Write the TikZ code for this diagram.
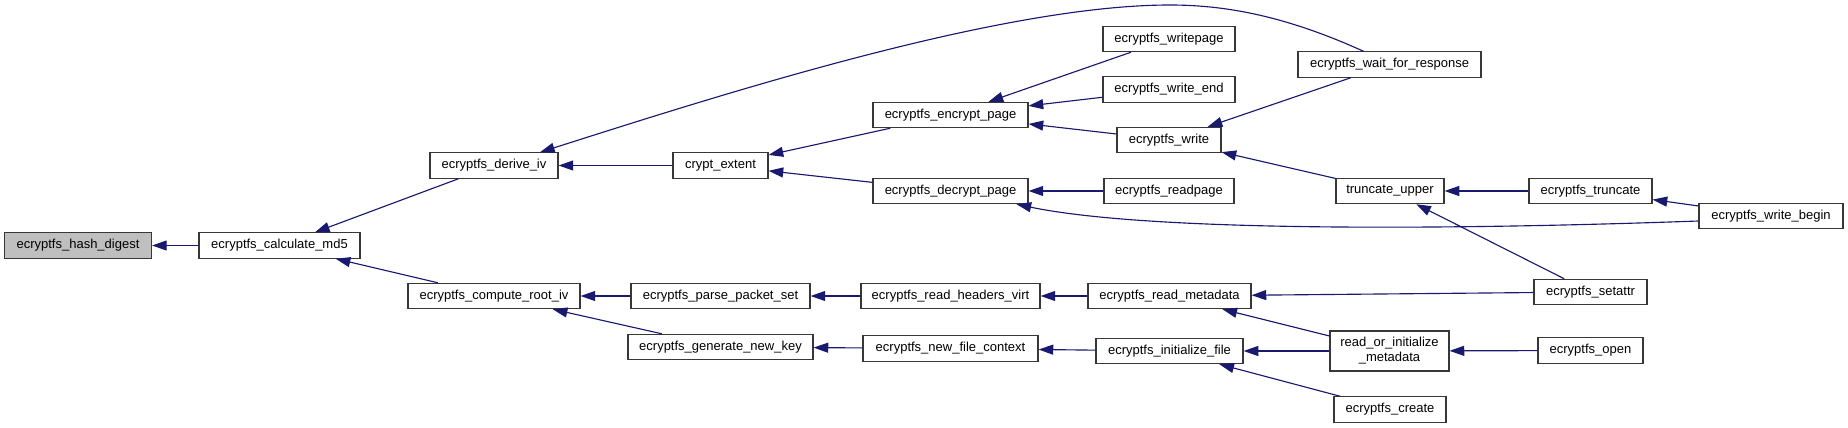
\documentclass[tikz,border=0pt]{standalone}
\usepackage{fontspec}
\setmainfont{Liberation Sans}
\usepackage{tikz}
\usetikzlibrary{arrows.meta, calc}
\definecolor{callblue}{RGB}{25,25,112}
\definecolor{boxline}{RGB}{55,55,55}
\definecolor{rootgray}{RGB}{191,191,191}

\tikzset{
  fn/.style={rectangle, draw=boxline, line width=0.85pt, fill=white, minimum height=19pt,
    inner xsep=2pt, inner ysep=1pt, align=center, font=\fontsize{9.75pt}{11.25pt}\selectfont},
  root/.style={fn, fill=rootgray},
  call/.style={draw=callblue, line width=0.85pt, >={Triangle[length=11pt, width=7.5pt]}}
}

\begin{document}
\begin{tikzpicture}[x=0.75pt, y=-0.75pt]
\useasboundingbox (0,0) rectangle (1848,428);

% Root and first caller
\node[root, minimum width=110.25pt] (hash) at (78,245.5) {ecryptfs\_hash\_digest};
\node[fn, minimum width=120.75pt] (md5) at (279.5,245.5) {ecryptfs\_calculate\_md5};

% Column 3
\node[fn, minimum width=96pt] (div) at (494,165.5) {ecryptfs\_derive\_iv};
\node[fn, minimum width=129pt] (criv) at (494,296) {ecryptfs\_compute\_root\_iv};

% Column 4
\node[fn, minimum width=71.25pt] (cext) at (720.5,165.5) {crypt\_extent};
\node[fn, minimum width=134.25pt] (pps) at (720.5,296) {ecryptfs\_parse\_packet\_set};
\node[fn, minimum width=138.75pt] (gnk) at (720.5,347) {ecryptfs\_generate\_new\_key};

% Column 5
\node[fn, minimum width=116.25pt] (enc) at (950.5,115) {ecryptfs\_encrypt\_page};
\node[fn, minimum width=116.25pt] (dec) at (950.5,191) {ecryptfs\_decrypt\_page};
\node[fn, minimum width=134.25pt] (rhv) at (950.5,296) {ecryptfs\_read\_headers\_virt};
\node[fn, minimum width=131.25pt] (nfc) at (950.5,348.5) {ecryptfs\_new\_file\_context};

% Column 6
\node[fn, minimum width=99pt] (wpg) at (1169,39) {ecryptfs\_writepage};
\node[fn, minimum width=99pt] (wend) at (1169,89.5) {ecryptfs\_write\_end};
\node[fn, minimum width=78pt] (wrt) at (1169,140) {ecryptfs\_write};
\node[fn, minimum width=97.5pt] (rpg) at (1169,191) {ecryptfs\_readpage};
\node[fn, minimum width=122.25pt] (rmd) at (1169.5,296) {ecryptfs\_read\_metadata};
\node[fn, minimum width=110.25pt] (inif) at (1169.5,351) {ecryptfs\_initialize\_file};

% Column 7
\node[fn, minimum width=137.25pt] (wfr) at (1389.5,64.5) {ecryptfs\_wait\_for\_response};
\node[fn, minimum width=81pt] (tup) at (1390,191) {truncate\_upper};
\node[fn, minimum width=89.25pt, minimum height=30pt] (roim) at (1389.5,351) {read\_or\_initialize\\\_metadata};
\node[fn, minimum width=84pt] (crt) at (1390,409.5) {ecryptfs\_create};

% Column 8
\node[fn, minimum width=92.25pt] (trn) at (1590.5,191) {ecryptfs\_truncate};
\node[fn, minimum width=84.75pt] (sat) at (1590.5,292) {ecryptfs\_setattr};
\node[fn, minimum width=78.75pt] (opn) at (1590.5,350.5) {ecryptfs\_open};

% Column 9
\node[fn, minimum width=108pt] (wbeg) at (1771,216) {ecryptfs\_write\_begin};

% Calls
\draw[call, <-] (hash) -- (md5);
\draw[call, <-] (md5) -- (div);
\draw[call, <-] (md5) -- (criv);
\draw[call, <-] (div) -- (cext);
\draw[call, <-] ($(div.north)+(46,0)$) .. controls (720,95) and (1000,5) .. (1170,5)
  .. controls (1230,5) and (1290,18) .. ($(wfr.north)+(-26,0)$);
\draw[call, <-] (cext) -- (enc);
\draw[call, <-] (cext) -- (dec);
\draw[call, <-] (enc) -- (wpg);
\draw[call, <-] (enc) -- (wend);
\draw[call, <-] (enc) -- (wrt);
\draw[call, <-] (dec) -- (rpg);
\draw[call, <-] ($(dec.south)+(66,0)$) .. controls (1150,232) and (1450,230) .. ($(wbeg.west)+(0,5)$);
\draw[call, <-] (wrt) -- (wfr);
\draw[call, <-] (wrt) -- (tup);
\draw[call, <-] (tup) -- (trn);
\draw[call, <-] (tup) -- (sat);
\draw[call, <-] (trn) -- (wbeg);
\draw[call, <-] (criv) -- (pps);
\draw[call, <-] (criv) -- (gnk);
\draw[call, <-] (pps) -- (rhv);
\draw[call, <-] (rhv) -- (rmd);
\draw[call, <-] (rmd) -- (sat);
\draw[call, <-] (rmd) -- (roim);
\draw[call, <-] (gnk) -- (nfc);
\draw[call, <-] (nfc) -- (inif);
\draw[call, <-] (inif) -- (roim);
\draw[call, <-] (inif) -- (crt);
\draw[call, <-] (roim) -- (opn);

\end{tikzpicture}
\end{document}
